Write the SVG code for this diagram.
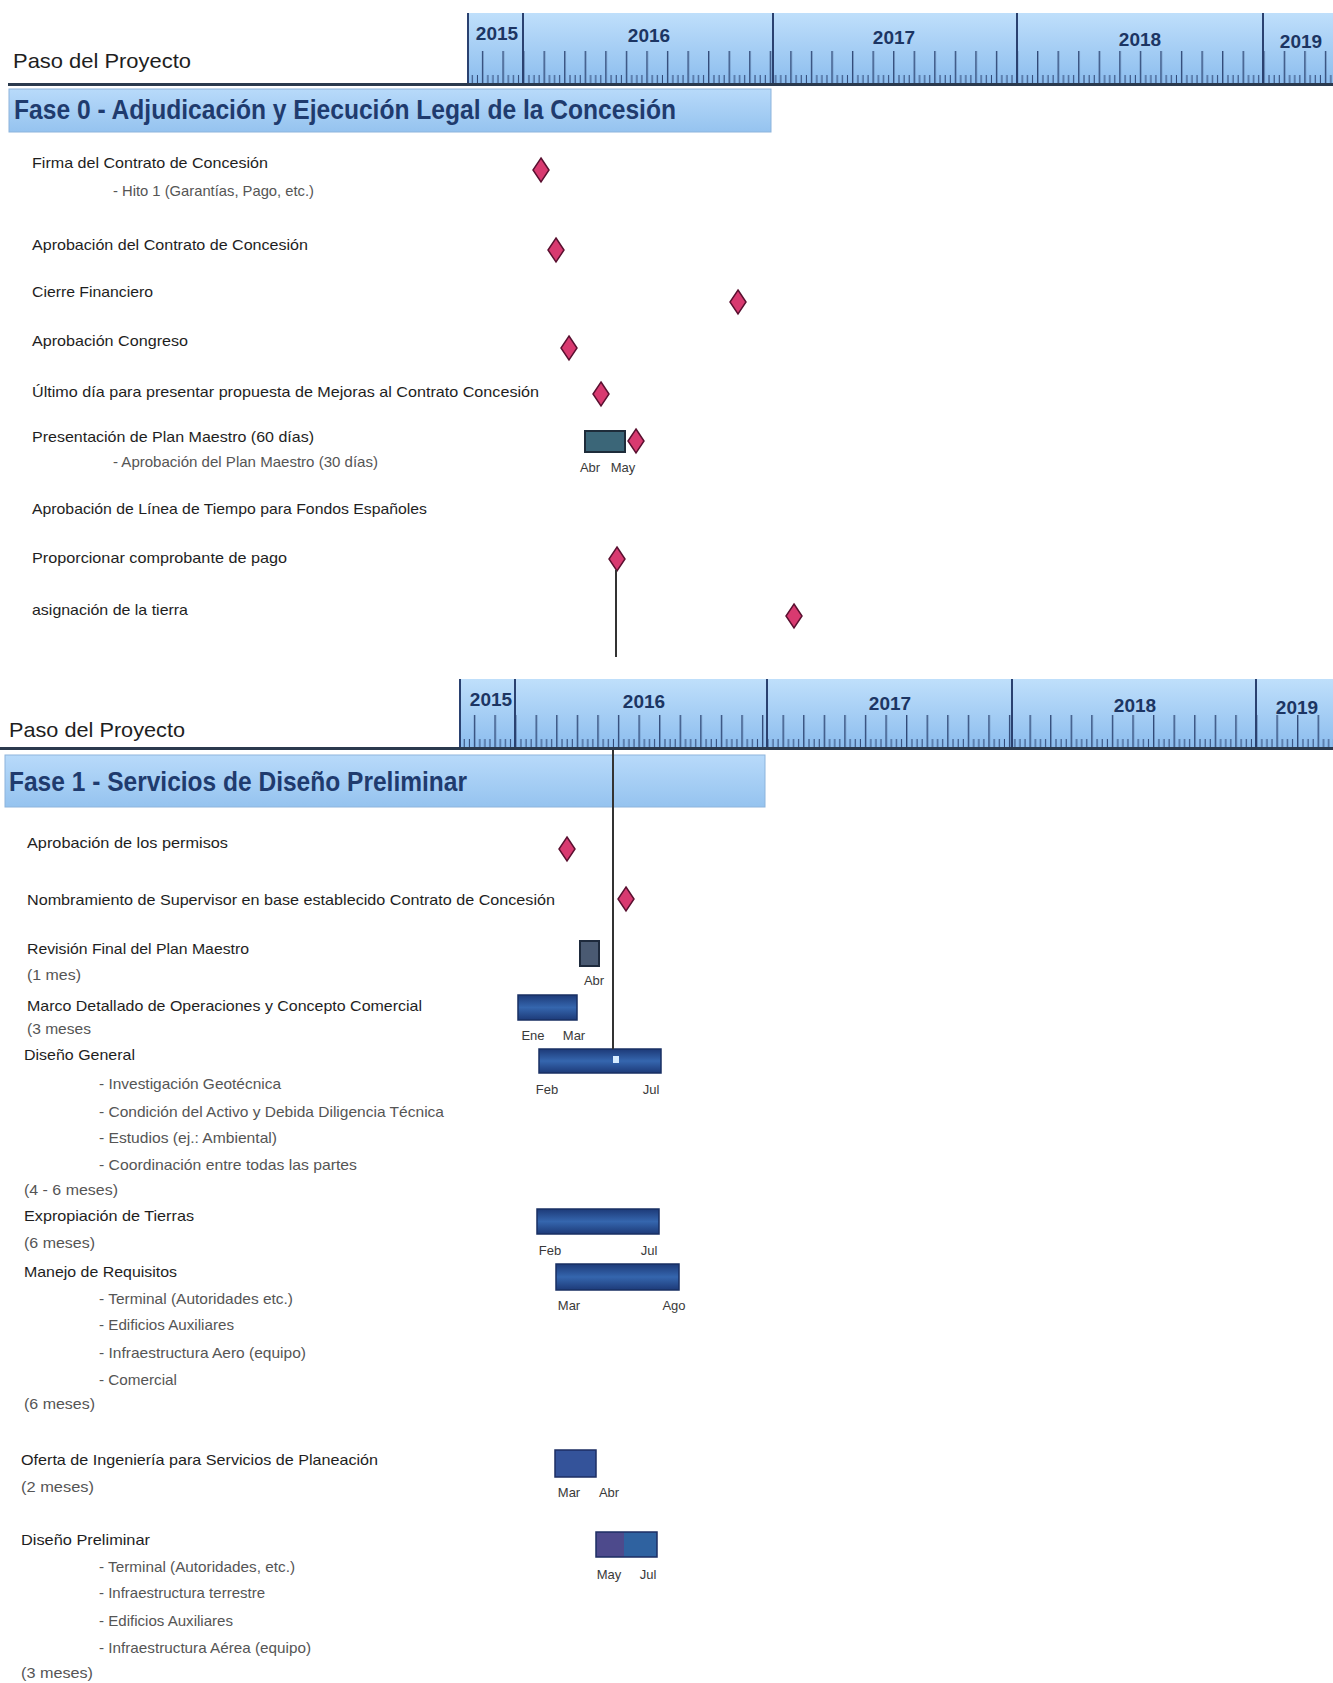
<svg xmlns="http://www.w3.org/2000/svg" width="1333" height="1683" viewBox="0 0 1333 1683">
<defs>
<style>
.t{font-family:"Liberation Sans Narrow","Liberation Sans",Arial,sans-serif;font-size:15px;fill:#1e1e1e}
.s{font-family:"Liberation Sans Narrow","Liberation Sans",Arial,sans-serif;font-size:15px;fill:#555}
.m{font-family:"Liberation Sans Narrow","Liberation Sans",Arial,sans-serif;font-size:13px;fill:#3a3a3a;text-anchor:middle}
.h{font-family:"Liberation Sans Narrow","Liberation Sans",Arial,sans-serif;font-size:21px;fill:#1e1e1e}
.y{font-family:"Liberation Sans Narrow","Liberation Sans",Arial,sans-serif;font-size:19px;font-weight:bold;fill:#1c3563;text-anchor:middle}
.f{font-family:"Liberation Sans Narrow","Liberation Sans",Arial,sans-serif;font-size:27px;font-weight:bold;fill:#1f3b6e}
.bar{fill:url(#barg);stroke:#182f63;stroke-width:1.5}
.ms{fill:#d83a70;stroke:#5a1030;stroke-width:1.5}
.div{stroke:#2a4170;stroke-width:2}
.conn{stroke:#333;stroke-width:2;fill:none}
</style>
<linearGradient id="hdr" x1="0" y1="0" x2="0" y2="1">
<stop offset="0" stop-color="#bfdffb"/>
<stop offset="1" stop-color="#8cbdee"/>
</linearGradient>
<linearGradient id="band" x1="0" y1="0" x2="0" y2="1">
<stop offset="0" stop-color="#b8dafa"/>
<stop offset="1" stop-color="#95c3ef"/>
</linearGradient>
<linearGradient id="barg" x1="0" y1="0" x2="0" y2="1">
<stop offset="0" stop-color="#1d3a78"/>
<stop offset="0.5" stop-color="#3566ae"/>
<stop offset="1" stop-color="#1d3a78"/>
</linearGradient>
<pattern id="tick1" patternUnits="userSpaceOnUse" x="523" y="13" width="20.56" height="71">
<line x1="0.7" y1="38" x2="0.7" y2="71" stroke="#2a4170" stroke-width="1.3"/>
<line x1="5.9" y1="62" x2="5.9" y2="71" stroke="#2a4170" stroke-width="1"/>
<line x1="11" y1="62" x2="11" y2="71" stroke="#2a4170" stroke-width="1"/>
<line x1="16.1" y1="62" x2="16.1" y2="71" stroke="#2a4170" stroke-width="1"/>
</pattern>
<pattern id="tick2" patternUnits="userSpaceOnUse" x="515" y="679" width="20.58" height="69">
<line x1="0.7" y1="36" x2="0.7" y2="69" stroke="#2a4170" stroke-width="1.3"/>
<line x1="5.9" y1="60" x2="5.9" y2="69" stroke="#2a4170" stroke-width="1"/>
<line x1="11" y1="60" x2="11" y2="69" stroke="#2a4170" stroke-width="1"/>
<line x1="16.1" y1="60" x2="16.1" y2="69" stroke="#2a4170" stroke-width="1"/>
</pattern>
</defs>
<rect width="1333" height="1683" fill="#ffffff"/>

<g id="header0">
<text class="h" x="13" y="68" textLength="178" lengthAdjust="spacingAndGlyphs">Paso del Proyecto</text>
<rect x="467" y="13" width="866" height="71" fill="url(#hdr)"/>
<rect x="467" y="13" width="866" height="71" fill="url(#tick1)"/>
<line class="div" x1="468" y1="13" x2="468" y2="84"/>
<line class="div" x1="523" y1="13" x2="523" y2="84"/>
<line class="div" x1="773" y1="13" x2="773" y2="84"/>
<line class="div" x1="1017" y1="13" x2="1017" y2="84"/>
<line class="div" x1="1263" y1="13" x2="1263" y2="84"/>
<text class="y" x="497" y="40">2015</text>
<text class="y" x="649" y="42">2016</text>
<text class="y" x="894" y="44">2017</text>
<text class="y" x="1140" y="46">2018</text>
<text class="y" x="1301" y="48">2019</text>
<rect x="8" y="83" width="1325" height="3" fill="#2b3a4e"/>
</g>

<g id="fase0">
<rect x="9" y="89" width="762" height="43" fill="url(#band)" stroke="#8db4dc" stroke-width="1"/>
<text class="f" x="14" y="119" textLength="662" lengthAdjust="spacingAndGlyphs">Fase 0 - Adjudicación y Ejecución Legal de la Concesión</text>
</g>

<g id="p0-firma">
<text class="t" x="32" y="168" textLength="236" lengthAdjust="spacingAndGlyphs">Firma del Contrato de Concesión</text>
<text class="s" x="113" y="196" textLength="201" lengthAdjust="spacingAndGlyphs">- Hito 1 (Garantías, Pago, etc.)</text>
<polygon class="ms" points="541,158 549,170 541,182 533,170"/>
</g>
<g id="p0-aprobacion-contrato">
<text class="t" x="32" y="250" textLength="276" lengthAdjust="spacingAndGlyphs">Aprobación del Contrato de Concesión</text>
<polygon class="ms" points="556,238 564,250 556,262 548,250"/>
</g>
<g id="p0-cierre">
<text class="t" x="32" y="297" textLength="121" lengthAdjust="spacingAndGlyphs">Cierre Financiero</text>
<polygon class="ms" points="738,290 746,302 738,314 730,302"/>
</g>
<g id="p0-congreso">
<text class="t" x="32" y="346" textLength="156" lengthAdjust="spacingAndGlyphs">Aprobación Congreso</text>
<polygon class="ms" points="569,336 577,348 569,360 561,348"/>
</g>
<g id="p0-ultimo-dia">
<text class="t" x="32" y="397" textLength="507" lengthAdjust="spacingAndGlyphs">Último día para presentar propuesta de Mejoras al Contrato Concesión</text>
<polygon class="ms" points="601,382 609,394 601,406 593,394"/>
</g>
<g id="p0-plan-maestro">
<text class="t" x="32" y="442" textLength="282" lengthAdjust="spacingAndGlyphs">Presentación de Plan Maestro (60 días)</text>
<text class="s" x="113" y="467" textLength="265" lengthAdjust="spacingAndGlyphs">- Aprobación del Plan Maestro (30 días)</text>
<rect x="585" y="431" width="40" height="21" fill="#3b6678" stroke="#1e2c3a" stroke-width="2"/>
<polygon class="ms" points="636,429 644,441 636,453 628,441"/>
<text class="m" x="590" y="472">Abr</text>
<text class="m" x="623" y="472">May</text>
</g>
<g id="p0-linea-tiempo">
<text class="t" x="32" y="514" textLength="395" lengthAdjust="spacingAndGlyphs">Aprobación de Línea de Tiempo para Fondos Españoles</text>
</g>
<g id="p0-comprobante">
<text class="t" x="32" y="563" textLength="255" lengthAdjust="spacingAndGlyphs">Proporcionar comprobante de pago</text>
<polygon class="ms" points="617,547 625,559 617,571 609,559"/>
</g>
<g id="p0-tierra">
<text class="t" x="32" y="615" textLength="156" lengthAdjust="spacingAndGlyphs">asignación de la tierra</text>
<polygon class="ms" points="794,604 802,616 794,628 786,616"/>
</g>

<g id="header1">
<text class="h" x="9" y="737" textLength="176" lengthAdjust="spacingAndGlyphs">Paso del Proyecto</text>
<rect x="459" y="679" width="874" height="69" fill="url(#hdr)"/>
<rect x="459" y="679" width="874" height="69" fill="url(#tick2)"/>
<line class="div" x1="460" y1="679" x2="460" y2="748"/>
<line class="div" x1="515" y1="679" x2="515" y2="748"/>
<line class="div" x1="767" y1="679" x2="767" y2="748"/>
<line class="div" x1="1012" y1="679" x2="1012" y2="748"/>
<line class="div" x1="1256" y1="679" x2="1256" y2="748"/>
<text class="y" x="491" y="706">2015</text>
<text class="y" x="644" y="708">2016</text>
<text class="y" x="890" y="710">2017</text>
<text class="y" x="1135" y="712">2018</text>
<text class="y" x="1297" y="714">2019</text>
<rect x="0" y="747" width="1333" height="3" fill="#2b3a4e"/>
</g>

<g id="fase1">
<rect x="5" y="755" width="760" height="52" fill="url(#band)" stroke="#8db4dc" stroke-width="1"/>
<text class="f" x="9" y="791" textLength="458" lengthAdjust="spacingAndGlyphs">Fase 1 - Servicios de Diseño Preliminar</text>
</g>

<g id="p1-permisos">
<text class="t" x="27" y="848" textLength="201" lengthAdjust="spacingAndGlyphs">Aprobación de los permisos</text>
<polygon class="ms" points="567,837 575,849 567,861 559,849"/>
</g>
<g id="p1-supervisor">
<text class="t" x="27" y="905" textLength="528" lengthAdjust="spacingAndGlyphs">Nombramiento de Supervisor en base establecido Contrato de Concesión</text>
<polygon class="ms" points="626,887 634,899 626,911 618,899"/>
</g>
<g id="p1-revision">
<text class="t" x="27" y="954" textLength="222" lengthAdjust="spacingAndGlyphs">Revisión Final del Plan Maestro</text>
<text class="s" x="27" y="980" textLength="54" lengthAdjust="spacingAndGlyphs">(1 mes)</text>
<rect x="580" y="941" width="19" height="25" fill="#4a5a72" stroke="#1e2a3c" stroke-width="2"/>
<text class="m" x="594" y="985">Abr</text>
</g>
<g id="p1-marco">
<text class="t" x="27" y="1011" textLength="395" lengthAdjust="spacingAndGlyphs">Marco Detallado de Operaciones y Concepto Comercial</text>
<text class="s" x="27" y="1034" textLength="64" lengthAdjust="spacingAndGlyphs">(3 meses</text>
<rect class="bar" x="518" y="995" width="59" height="25"/>
<text class="m" x="533" y="1040">Ene</text>
<text class="m" x="574" y="1040">Mar</text>
</g>
<g id="p1-diseno-general">
<text class="t" x="24" y="1060" textLength="111" lengthAdjust="spacingAndGlyphs">Diseño General</text>
<text class="s" x="99" y="1089" textLength="182" lengthAdjust="spacingAndGlyphs">- Investigación Geotécnica</text>
<text class="s" x="99" y="1117" textLength="345" lengthAdjust="spacingAndGlyphs">- Condición del Activo y Debida Diligencia Técnica</text>
<text class="s" x="99" y="1143" textLength="178" lengthAdjust="spacingAndGlyphs">- Estudios (ej.: Ambiental)</text>
<text class="s" x="99" y="1170" textLength="258" lengthAdjust="spacingAndGlyphs">- Coordinación entre todas las partes</text>
<text class="s" x="24" y="1195" textLength="94" lengthAdjust="spacingAndGlyphs">(4 - 6 meses)</text>
<rect class="bar" x="539" y="1049" width="122" height="24"/>
<rect x="613" y="1056" width="6" height="7" fill="#d7ecff"/>
<text class="m" x="547" y="1094">Feb</text>
<text class="m" x="651" y="1094">Jul</text>
</g>
<g id="p1-expropiacion">
<text class="t" x="24" y="1221" textLength="170" lengthAdjust="spacingAndGlyphs">Expropiación de Tierras</text>
<text class="s" x="24" y="1248" textLength="71" lengthAdjust="spacingAndGlyphs">(6 meses)</text>
<rect class="bar" x="537" y="1209" width="122" height="25"/>
<text class="m" x="550" y="1255">Feb</text>
<text class="m" x="649" y="1255">Jul</text>
</g>
<g id="p1-requisitos">
<text class="t" x="24" y="1277" textLength="153" lengthAdjust="spacingAndGlyphs">Manejo de Requisitos</text>
<text class="s" x="99" y="1304" textLength="194" lengthAdjust="spacingAndGlyphs">- Terminal (Autoridades etc.)</text>
<text class="s" x="99" y="1330" textLength="135" lengthAdjust="spacingAndGlyphs">- Edificios Auxiliares</text>
<text class="s" x="99" y="1358" textLength="207" lengthAdjust="spacingAndGlyphs">- Infraestructura Aero (equipo)</text>
<text class="s" x="99" y="1385" textLength="78" lengthAdjust="spacingAndGlyphs">- Comercial</text>
<text class="s" x="24" y="1409" textLength="71" lengthAdjust="spacingAndGlyphs">(6 meses)</text>
<rect class="bar" x="556" y="1264" width="123" height="26"/>
<text class="m" x="569" y="1310">Mar</text>
<text class="m" x="674" y="1310">Ago</text>
</g>
<g id="p1-oferta">
<text class="t" x="21" y="1465" textLength="357" lengthAdjust="spacingAndGlyphs">Oferta de Ingeniería para Servicios de Planeación</text>
<text class="s" x="21" y="1492" textLength="73" lengthAdjust="spacingAndGlyphs">(2 meses)</text>
<rect x="555" y="1450" width="41" height="27" fill="#34539a" stroke="#1d2e63" stroke-width="1.5"/>
<text class="m" x="569" y="1497">Mar</text>
<text class="m" x="609" y="1497">Abr</text>
</g>
<g id="p1-diseno-preliminar">
<text class="t" x="21" y="1545" textLength="129" lengthAdjust="spacingAndGlyphs">Diseño Preliminar</text>
<text class="s" x="99" y="1572" textLength="196" lengthAdjust="spacingAndGlyphs">- Terminal (Autoridades, etc.)</text>
<text class="s" x="99" y="1598" textLength="166" lengthAdjust="spacingAndGlyphs">- Infraestructura terrestre</text>
<text class="s" x="99" y="1626" textLength="134" lengthAdjust="spacingAndGlyphs">- Edificios Auxiliares</text>
<text class="s" x="99" y="1653" textLength="212" lengthAdjust="spacingAndGlyphs">- Infraestructura Aérea (equipo)</text>
<text class="s" x="21" y="1678" textLength="72" lengthAdjust="spacingAndGlyphs">(3 meses)</text>
<rect x="596" y="1532" width="28" height="25" fill="#4d4a8c"/>
<rect x="624" y="1532" width="33" height="25" fill="#2f62a0"/>
<rect x="596" y="1532" width="61" height="25" fill="none" stroke="#1d2e63" stroke-width="1.5"/>
<text class="m" x="609" y="1579">May</text>
<text class="m" x="648" y="1579">Jul</text>
</g>

<g id="connectors">
<line class="conn" x1="616" y1="570" x2="616" y2="657"/>
<line class="conn" x1="613" y1="750" x2="613" y2="1049"/>
</g>
</svg>
